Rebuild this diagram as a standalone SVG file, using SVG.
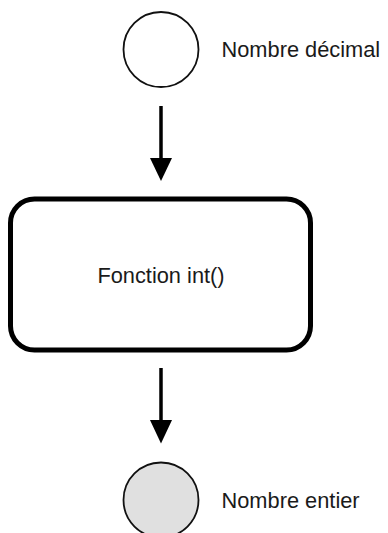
<svg xmlns="http://www.w3.org/2000/svg" width="388" height="533" viewBox="0 0 388 533">
<style>
.lbl{font-family:"Liberation Sans",Arial,sans-serif;font-size:21.8px;fill:#1a1a1a}
.edge{stroke:#000;stroke-width:3.5;fill:none}
.head{fill:#000}
</style>
<rect width="388" height="533" fill="#fff"/>
<g id="start">
<circle cx="161" cy="49.5" r="37.5" fill="#fff" stroke="#111" stroke-width="1.8"/>
<text class="lbl" x="221.5" y="56.5">Nombre décimal</text>
</g>
<g id="process">
<rect x="10.5" y="199" width="300" height="151" rx="24" ry="24" fill="#fff" stroke="#000" stroke-width="5"/>
<text class="lbl" x="161" y="282.5" text-anchor="middle">Fonction int()</text>
</g>
<g id="end">
<circle cx="161" cy="500" r="37.5" fill="#e0e0e0" stroke="#111" stroke-width="1.8"/>
<text class="lbl" x="221.5" y="508.3">Nombre entier</text>
</g>
<g id="connectors">
<line class="edge" x1="161" y1="106" x2="161" y2="160"/>
<polygon class="head" points="150,158 172,158 161,181"/>
<line class="edge" x1="161" y1="368" x2="161" y2="422"/>
<polygon class="head" points="150,420 172,420 161,443.5"/>
</g>
</svg>
